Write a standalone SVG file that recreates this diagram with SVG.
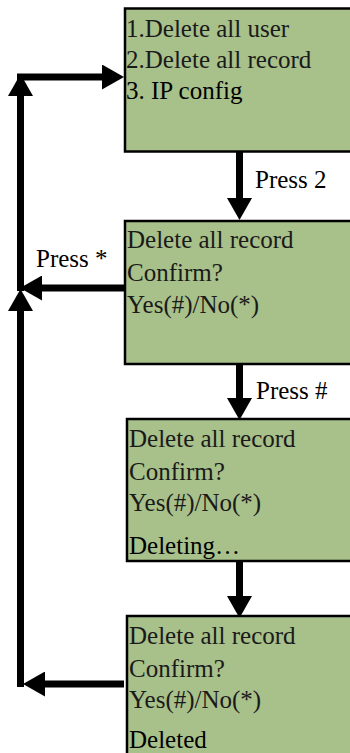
<svg xmlns="http://www.w3.org/2000/svg" width="350" height="753" viewBox="0 0 350 753">
<defs>
  <marker id="ah" markerUnits="userSpaceOnUse" markerWidth="22" markerHeight="25" viewBox="0 0 22 25" refX="0" refY="12.5" orient="auto">
    <path d="M0,0 L22,12.5 L0,25 Z" fill="#000"/>
  </marker>
</defs>
<rect width="350" height="753" fill="#fff"/>
<g id="connectors" stroke="#000" stroke-width="7" fill="none" marker-end="url(#ah)">
  <line x1="239.5" y1="152" x2="239.5" y2="198"/>
  <line x1="239.5" y1="365" x2="239.5" y2="398"/>
  <line x1="239.5" y1="562" x2="239.5" y2="596"/>
  <line x1="20.5" y1="687" x2="20.5" y2="311"/>
  <line x1="20.5" y1="291" x2="20.5" y2="96"/>
  <line x1="17" y1="77" x2="102" y2="77"/>
  <line x1="124" y1="288" x2="42" y2="288"/>
  <line x1="124" y1="684" x2="45" y2="684"/>
</g>
<g id="labels" font-family="Liberation Serif" font-size="25" fill="#000">
  <text x="255" y="188" font-family="Liberation Serif">Press 2</text>
  <text x="36" y="267" font-family="Liberation Serif">Press *</text>
  <text x="256" y="399" font-family="Liberation Serif">Press #</text>
</g>
<g id="node1" font-family="Liberation Serif" font-size="25" fill="#1a1a1a">
  <rect x="125" y="8.5" width="240" height="143" fill="#a8c08a" stroke="#000" stroke-width="2.5"/>
  <text x="126" y="37" font-family="Liberation Serif">1.Delete all user</text>
  <text x="126" y="68" font-family="Liberation Serif">2.Delete all record</text>
  <text x="126" y="99" font-family="Liberation Serif" fill="#000">3. IP config</text>
</g>
<g id="node2" font-family="Liberation Serif" font-size="25" fill="#1a1a1a">
  <rect x="125" y="221" width="240" height="143" fill="#a8c08a" stroke="#000" stroke-width="2.5"/>
  <text x="127" y="248" font-family="Liberation Serif">Delete all record</text>
  <text x="127" y="281" font-family="Liberation Serif">Confirm?</text>
  <text x="127" y="313" font-family="Liberation Serif">Yes(#)/No(*)</text>
</g>
<g id="node3" font-family="Liberation Serif" font-size="25" fill="#1a1a1a">
  <rect x="127" y="419" width="240" height="142" fill="#a8c08a" stroke="#000" stroke-width="2.5"/>
  <text x="129" y="447" font-family="Liberation Serif">Delete all record</text>
  <text x="129" y="480" font-family="Liberation Serif">Confirm?</text>
  <text x="129" y="511" font-family="Liberation Serif">Yes(#)/No(*)</text>
  <text x="129" y="554" font-family="Liberation Serif" fill="#000">Deleting…</text>
</g>
<g id="node4" font-family="Liberation Serif" font-size="25" fill="#1a1a1a">
  <rect x="127" y="616" width="240" height="160" fill="#a8c08a" stroke="#000" stroke-width="2.5"/>
  <text x="129" y="644" font-family="Liberation Serif">Delete all record</text>
  <text x="129" y="677" font-family="Liberation Serif">Confirm?</text>
  <text x="129" y="708" font-family="Liberation Serif">Yes(#)/No(*)</text>
  <text x="129" y="748" font-family="Liberation Serif" fill="#000">Deleted</text>
</g>
</svg>
